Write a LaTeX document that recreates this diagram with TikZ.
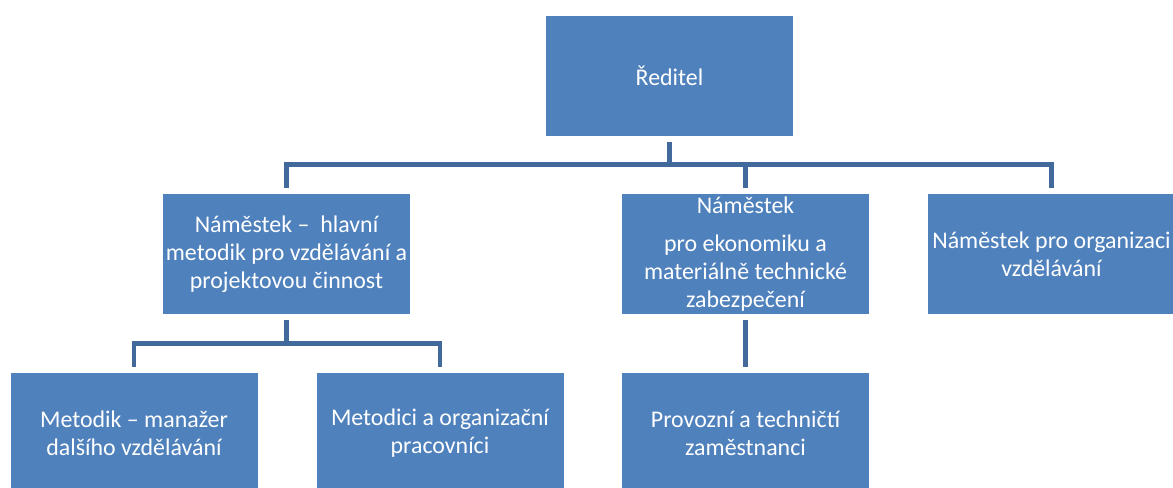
\documentclass[tikz,border=0pt]{standalone}
\usepackage{fontspec}
\setmainfont{Carlito}
\usepackage{tikz}
\usetikzlibrary{calc}
\definecolor{boxblue}{HTML}{4F81BD}
\definecolor{linkblue}{HTML}{41699B}
\tikzset{
    unit/.style={fill=boxblue, text=white, minimum width=6.175cm, minimum height=3cm,
        align=center, inner sep=0pt, font=\fontsize{17}{19.8}\selectfont},
    link/.style={draw=linkblue, line width=3.4pt}
}

\begin{document}
\begin{tikzpicture}
    \clip (0,0) rectangle (29.325,-12.175);

    \node[unit] (dir) at (16.7375,-1.8875) {Ředitel};
    \node[unit] (depa) at (7.1625,-6.35) {Náměstek –~ hlavní\\metodik pro vzdělávání a\\projektovou činnost};
    \node[unit] (depb) at (18.6375,-6.35) {Náměstek\\[0.25cm]pro ekonomiku a\\materiálně technické\\zabezpečení};
    \node[unit] (depc) at (26.2875,-6.35) {Náměstek pro organizaci\\vzdělávání};
    \node[unit] (meta) at (3.35,-10.825) {Metodik – manažer\\dalšího vzdělávání};
    \node[unit] (metb) at (11.0,-10.825) {Metodici a organizační\\pracovníci};
    \node[unit] (staff) at (18.6375,-10.825) {Provozní a techničtí\\zaměstnanci};

    % bus lines half way between the rows
    \coordinate (busa) at ($(dir.south)!0.5!(depa.north)$);
    \coordinate (busb) at ($(depa.south)!0.5!(meta.north)$);

    \draw[link] ([yshift=-0.15cm]dir.south) -- (dir.south |- busa);
    \draw[link] ([yshift=0.15cm]depa.north) |- (depc.north |- busa) -- ([yshift=0.15cm]depc.north);
    \draw[link] ([yshift=0.15cm]depb.north) -- (depb.north |- busa);

    \draw[link] ([yshift=-0.15cm]depa.south) -- (depa.south |- busb);
    \draw[link] ([yshift=0.15cm]meta.north) |- (metb.north |- busb) -- ([yshift=0.15cm]metb.north);

    \draw[link] ([yshift=-0.15cm]depb.south) -- ([yshift=0.15cm]staff.north);
\end{tikzpicture}
\end{document}
